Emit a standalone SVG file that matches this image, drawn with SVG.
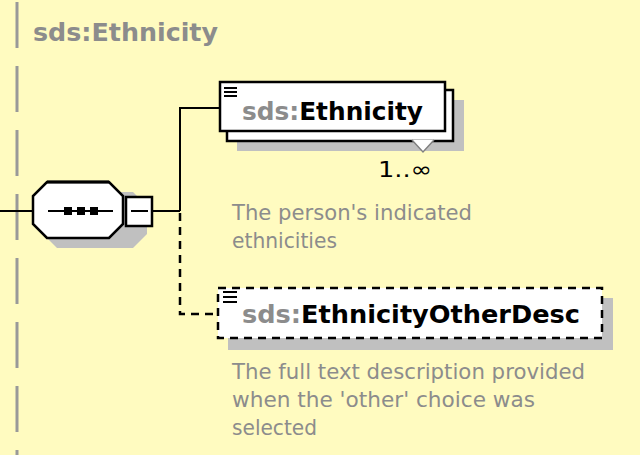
<svg xmlns="http://www.w3.org/2000/svg" width="640" height="455" viewBox="0 0 640 455">
<style>
.bold{font-family:"DejaVu Sans","Liberation Sans",sans-serif;font-weight:bold}
.gray{fill:#8c8c8c}
.blk{fill:#000}
.desc{font-family:"DejaVu Sans","Liberation Sans",sans-serif;font-size:21px;fill:#8c8c8c}
.box{fill:#fff;stroke:#000;stroke-width:2.5}
.shadow{fill:#c0c0c0}
.conn{fill:none;stroke:#000;stroke-width:2}
.dash{fill:none;stroke:#000;stroke-width:2.5;stroke-dasharray:8 6}
.icon{stroke:#000;stroke-width:2}
</style>
<rect x="0" y="0" width="640" height="455" fill="#fffbc0"/>
<line x1="17" y1="2" x2="17" y2="455" stroke="#999" stroke-width="3" stroke-dasharray="46 18"/>
<text x="33" y="41" class="bold gray" font-size="25" textLength="185" lengthAdjust="spacingAndGlyphs">sds:Ethnicity</text>

<g id="connectors">
<line x1="0" y1="211" x2="34" y2="211" class="conn"/>
<line x1="152" y1="211" x2="180" y2="211" class="conn"/>
<polyline points="180,211 180,108 220,108" class="conn"/>
<polyline points="180,213 180,314 218,314" class="dash"/>
</g>

<g id="sequence">
<polygon points="57,192 133,192 147,206 147,234 133,248 57,248 43,234 43,206" class="shadow"/>
<polygon points="47,182 109,182 123,196 123,224 109,238 47,238 33,224 33,196" class="box"/>
<line x1="47" y1="182" x2="109" y2="182" stroke="#000" stroke-width="3"/>
<line x1="48" y1="211" x2="113" y2="211" stroke="#000" stroke-width="2"/>
<rect x="64" y="207" width="8" height="8" fill="#000"/>
<rect x="77" y="207" width="8" height="8" fill="#000"/>
<rect x="90" y="207" width="8" height="8" fill="#000"/>
<rect x="126" y="197" width="26" height="29" class="box" stroke-width="2"/>
<line x1="131" y1="211" x2="148" y2="211" stroke="#000" stroke-width="2"/>
</g>

<g id="node-ethnicity">
<rect x="237" y="100" width="227" height="51" class="shadow"/>
<rect x="227" y="90" width="226" height="51" class="box"/>
<rect x="220" y="82" width="225" height="49" class="box"/>
<line x1="224" y1="88" x2="237" y2="88" class="icon"/>
<line x1="224" y1="92" x2="237" y2="92" class="icon"/>
<line x1="224" y1="96" x2="237" y2="96" class="icon"/>
<text x="242" y="120" class="bold" font-size="24" textLength="181" lengthAdjust="spacingAndGlyphs"><tspan class="gray">sds:</tspan><tspan class="blk">Ethnicity</tspan></text>
<polyline points="412,140 423,152 434,140" fill="#fff" stroke="#808080" stroke-width="1.5"/>
<text x="378" y="177" font-family="DejaVu Sans, Liberation Sans, sans-serif" font-size="22" fill="#000" textLength="54" lengthAdjust="spacingAndGlyphs">1..∞</text>
<text x="232" y="220" class="desc" textLength="240" lengthAdjust="spacingAndGlyphs">The person's indicated</text>
<text x="232" y="248" class="desc" textLength="105" lengthAdjust="spacingAndGlyphs">ethnicities</text>
</g>

<g id="node-ethnicityotherdesc">
<rect x="228" y="298" width="385" height="52" class="shadow"/>
<rect x="218" y="288" width="384" height="50" fill="#fff"/>
<rect x="218" y="288" width="384" height="50" class="dash"/>
<line x1="223" y1="292" x2="237" y2="292" class="icon"/>
<line x1="223" y1="297" x2="237" y2="297" class="icon"/>
<line x1="223" y1="302" x2="237" y2="302" class="icon"/>
<text x="242" y="323" class="bold" font-size="24" textLength="338" lengthAdjust="spacingAndGlyphs"><tspan class="gray">sds:</tspan><tspan class="blk">EthnicityOtherDesc</tspan></text>
<text x="232" y="379" class="desc" textLength="353" lengthAdjust="spacingAndGlyphs">The full text description provided</text>
<text x="232" y="407" class="desc" textLength="303" lengthAdjust="spacingAndGlyphs">when the 'other' choice was</text>
<text x="232" y="435" class="desc" textLength="85" lengthAdjust="spacingAndGlyphs">selected</text>
</g>
</svg>
